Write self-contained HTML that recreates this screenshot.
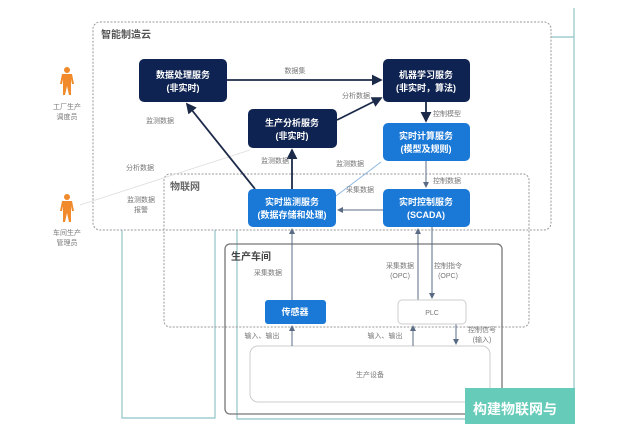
<!DOCTYPE html>
<html><head><meta charset="utf-8"><style>
html,body{margin:0;padding:0;background:#fff;}
svg{display:block;font-family:"Liberation Sans","Noto Sans CJK SC",sans-serif;}
.l{font-size:7px;fill:#777;text-anchor:middle;}
.n{font-size:9px;fill:#fff;font-weight:bold;text-anchor:middle;}
</style></head><body>
<svg width="619" height="424" viewBox="0 0 619 424" xmlns="http://www.w3.org/2000/svg">
<defs>
<marker id="a" markerWidth="6" markerHeight="6" refX="5" refY="3" orient="auto"><path d="M0,0 L6,3 L0,6z" fill="#1c2a4a"/></marker>
<marker id="b" markerWidth="6" markerHeight="6" refX="5" refY="3" orient="auto"><path d="M0,0 L6,3 L0,6z" fill="#5a6b85"/></marker>
</defs>
<!-- teal framing lines -->
<g stroke="#8fc4c8" stroke-width="1.2" fill="none">
<line x1="574" y1="8" x2="574" y2="418"/>
<line x1="551" y1="37" x2="574" y2="37"/>
<polyline points="122,230 122,418 215,418 215,230"/>
<polyline points="237,230 237,419 574,419"/>
</g>
<!-- cloud -->
<rect x="93" y="22" width="458" height="208" rx="7" fill="none" stroke="#999" stroke-dasharray="2,1.5"/>
<text x="101" y="38" font-size="10" font-weight="bold" fill="#555">智能制造云</text>
<!-- IoT -->
<rect x="164" y="174" width="365" height="153" rx="6" fill="none" stroke="#999" stroke-dasharray="2,1.5"/>
<text x="170" y="190" font-size="10" font-weight="bold" fill="#666">物联网</text>
<!-- workshop -->
<rect x="225" y="244" width="277" height="170" rx="5" fill="none" stroke="#777" stroke-width="1.3"/>
<text x="231" y="260" font-size="10" font-weight="bold" fill="#444">生产车间</text>
<rect x="250" y="346" width="240" height="56" rx="8" fill="#fff" stroke="#ccc"/>
<text x="370" y="377" class="l" font-size="8">生产设备</text>
<!-- persons -->
<g fill="#f08a2a">
<circle cx="67" cy="70" r="3"/><path d="M62,74 h10 l2,10 h-2 l-1,-5 v16 h-2 l-2,-9 l-2,9 h-2 v-16 l-1,5 h-2z"/>
<circle cx="67" cy="197" r="3"/><path d="M62,201 h10 l2,10 h-2 l-1,-5 v16 h-2 l-2,-9 l-2,9 h-2 v-16 l-1,5 h-2z"/>
</g>
<text x="67" y="109" class="l">工厂生产</text><text x="67" y="119" class="l">调度员</text>
<text x="67" y="235" class="l">车间生产</text><text x="67" y="245" class="l">管理员</text>
<line x1="80" y1="205" x2="250" y2="150" stroke="#ddd" stroke-width="0.8"/>
<text x="140" y="170" class="l">分析数据</text>
<text x="141" y="202" class="l">监测数据</text><text x="141" y="212" class="l">报警</text>
<!-- connectors -->
<g stroke="#1c2a4a" stroke-width="1.8" fill="none" marker-end="url(#a)">
<line x1="227" y1="80" x2="381" y2="80"/>
<line x1="337" y1="120" x2="381" y2="98"/>
<line x1="426" y1="102" x2="426" y2="121"/>
<line x1="255" y1="189" x2="187" y2="104"/>
<line x1="292" y1="189" x2="292" y2="150"/>
</g>
<g stroke="#5a6b85" stroke-width="1" fill="none" marker-end="url(#b)">
<line x1="426" y1="161" x2="426" y2="187"/>
<line x1="383" y1="210" x2="338" y2="210"/>
<line x1="292" y1="300" x2="292" y2="229"/>
<line x1="418" y1="300" x2="418" y2="229"/>
<line x1="432" y1="227" x2="432" y2="298"/>
<line x1="292" y1="346" x2="292" y2="326"/>
<line x1="413" y1="346" x2="413" y2="326"/>
<line x1="456" y1="324" x2="456" y2="344"/>
</g>
<line x1="336" y1="196" x2="381" y2="162" stroke="#8fb8e0" stroke-width="1"/>
<text x="295" y="73" class="l">数据集</text>
<text x="356" y="98" class="l">分析数据</text>
<text x="447" y="116" class="l">控制模型</text>
<text x="160" y="123" class="l">监测数据</text>
<text x="275" y="163" class="l">监测数据</text>
<text x="350" y="166" class="l">监测数据</text>
<text x="447" y="183" class="l">控制数据</text>
<text x="360" y="192" class="l">采集数据</text>
<text x="268" y="275" class="l">采集数据</text>
<text x="400" y="268" class="l">采集数据</text><text x="400" y="278" class="l">(OPC)</text>
<text x="448" y="268" class="l">控制指令</text><text x="448" y="278" class="l">(OPC)</text>
<text x="262" y="338" class="l">输入、输出</text>
<text x="385" y="338" class="l">输入、输出</text>
<text x="482" y="332" class="l">控制信号</text><text x="482" y="342" class="l">(输入)</text>
<!-- nodes -->
<rect x="139" y="59" width="88" height="43" rx="5" fill="#0f2352"/>
<text x="183" y="78" class="n">数据处理服务</text><text x="183" y="91" class="n">(非实时)</text>
<rect x="383" y="59" width="87" height="43" rx="5" fill="#0f2352"/>
<text x="426" y="78" class="n">机器学习服务</text><text x="426" y="91" class="n">(非实时，算法)</text>
<rect x="248" y="109" width="89" height="39" rx="5" fill="#0f2352"/>
<text x="292" y="126" class="n">生产分析服务</text><text x="292" y="139" class="n">(非实时)</text>
<rect x="383" y="123" width="87" height="38" rx="5" fill="#1a78d6"/>
<text x="426" y="139" class="n">实时计算服务</text><text x="426" y="152" class="n">(模型及规则)</text>
<rect x="248" y="189" width="88" height="38" rx="5" fill="#1a78d6"/>
<text x="292" y="205" class="n">实时监测服务</text><text x="292" y="218" class="n">(数据存储和处理)</text>
<rect x="383" y="189" width="87" height="38" rx="5" fill="#1a78d6"/>
<text x="426" y="205" class="n">实时控制服务</text><text x="426" y="218" class="n">(SCADA)</text>
<rect x="265" y="300" width="61" height="24" rx="3" fill="#1a78d6"/>
<text x="295" y="315" class="n">传感器</text>
<rect x="398" y="300" width="68" height="24" rx="4" fill="#fff" stroke="#ccc"/>
<text x="432" y="315" class="l" font-size="9">PLC</text>
<!-- banner -->
<rect x="465" y="388" width="110" height="36" fill="#66cbb8"/>
<text x="473" y="414" font-size="14" font-weight="bold" fill="#fff">构建物联网与</text>
</svg>
</body></html>
